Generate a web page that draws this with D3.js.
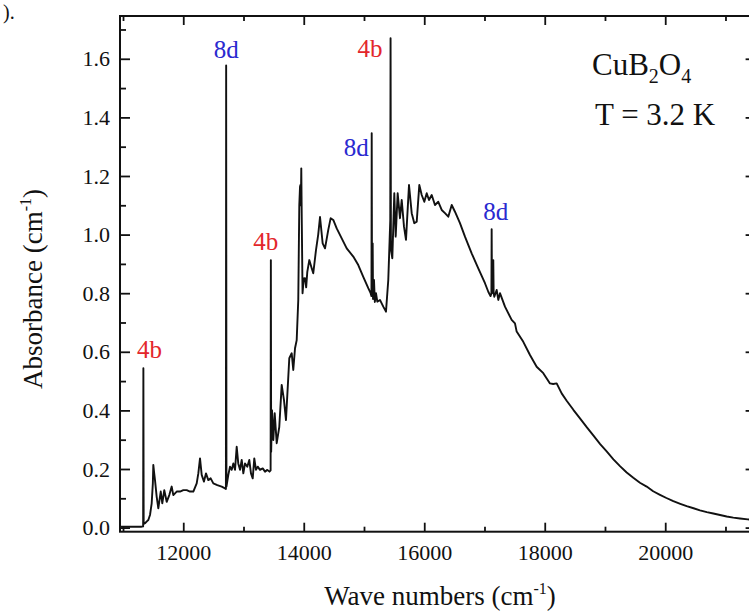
<!DOCTYPE html>
<html>
<head>
<meta charset="utf-8">
<script src="https://cdn.jsdelivr.net/npm/d3@7"></script>
<style>
  html, body { margin: 0; padding: 0; background: #fff; }
  svg { display: block; }
  text { font-family: "Liberation Serif", "Times New Roman", serif; fill: #111; }
</style>
</head>
<body>
<svg id="chart" width="749" height="612"></svg>
<script>
// Absorption spectrum of CuB2O4 at T = 3.2 K
const wavenumbers = [
  10955, 11000, 11100, 11200, 11300, 11334, 11338, 11343, 11365, 11400,
  11420, 11448, 11476, 11495, 11503, 11515, 11531, 11559, 11586, 11626,
  11652, 11685, 11725, 11768, 11808, 11835, 11891, 11946, 12001, 12057,
  12112, 12167, 12223, 12250, 12278, 12306, 12344, 12377, 12416, 12455,
  12499, 12565, 12638, 12693, 12708, 12712, 12717, 12748, 12776, 12804,
  12831, 12859, 12887, 12913, 12942, 12970, 12997, 13025, 13063, 13096,
  13124, 13153, 13179, 13207, 13236, 13274, 13319, 13357, 13395, 13431,
  13450, 13454, 13459, 13473, 13495, 13518, 13551, 13594, 13634, 13672,
  13705, 13760, 13800, 13826, 13855, 13883, 13909, 13926, 13938, 13945,
  13952, 13959, 13968, 13980, 14000, 14021, 14040, 14059, 14092, 14132,
  14158, 14203, 14240, 14270, 14314, 14353, 14407, 14447, 14490, 14547,
  14630, 14713, 14822, 14905, 14988, 15071, 15110, 15124, 15128, 15133,
  15144, 15150, 15166, 15180, 15199, 15221, 15265, 15320, 15365, 15403,
  15425, 15436, 15441, 15447, 15470, 15503, 15526, 15559, 15597, 15626,
  15664, 15697, 15747, 15792, 15835, 15875, 15918, 15958, 16001, 16041,
  16079, 16124, 16178, 16233, 16290, 16344, 16399, 16456, 16510, 16593,
  16676, 16787, 16897, 17008, 17063, 17100, 17115, 17119, 17124, 17140,
  17146, 17152, 17163, 17202, 17229, 17257, 17340, 17451, 17506, 17534,
  17644, 17755, 17866, 17976, 18087, 18140, 18198, 18281, 18364, 18475,
  18585, 18700, 18806, 18920, 19028, 19140, 19249, 19360, 19470, 19580,
  19692, 19800, 19913, 20020, 20134, 20250, 20356, 20470, 20577, 20690,
  20798, 20910, 21020, 21130, 21241, 21370, 21500
];
const absorbance = [
  0.003, 0.003, 0.003, 0.003, 0.003, 0.004, 0.544, 0.012, 0.015, 0.022,
  0.026, 0.043, 0.083, 0.150, 0.214, 0.190, 0.162, 0.105, 0.066, 0.123,
  0.083, 0.128, 0.088, 0.111, 0.140, 0.111, 0.123, 0.123, 0.128, 0.128,
  0.123, 0.123, 0.151, 0.185, 0.236, 0.180, 0.157, 0.185, 0.162, 0.168,
  0.151, 0.145, 0.140, 0.134, 0.132, 1.577, 0.140, 0.180, 0.208, 0.197,
  0.219, 0.197, 0.276, 0.219, 0.197, 0.231, 0.185, 0.219, 0.208, 0.231,
  0.185, 0.168, 0.236, 0.197, 0.208, 0.197, 0.202, 0.191, 0.197, 0.191,
  0.195, 0.913, 0.259, 0.401, 0.299, 0.390, 0.288, 0.344, 0.487, 0.435,
  0.367, 0.578, 0.595, 0.538, 0.612, 0.640, 0.777, 1.100, 1.163, 1.169,
  1.100, 1.226, 1.033, 0.800, 0.850, 0.851, 0.820, 0.873, 0.913, 0.885,
  0.868, 0.947, 1.000, 1.060, 0.970, 0.953, 1.016, 1.056, 1.050, 1.021,
  0.987, 0.953, 0.925, 0.896, 0.856, 0.817, 0.800, 0.790, 1.346, 0.800,
  0.970, 0.780, 0.845, 0.770, 0.800, 0.771, 0.777, 0.754, 0.737, 0.845,
  0.980, 1.050, 1.670, 0.950, 0.919, 1.141, 0.993, 1.141, 1.056, 1.118,
  1.027, 0.982, 1.169, 1.073, 1.039, 1.044, 1.169, 1.135, 1.112, 1.141,
  1.118, 1.135, 1.101, 1.112, 1.084, 1.073, 1.061, 1.101, 1.078, 1.039,
  0.993, 0.936, 0.885, 0.834, 0.805, 0.790, 0.800, 1.018, 0.820, 0.800,
  0.913, 0.800, 0.788, 0.811, 0.777, 0.800, 0.754, 0.709, 0.697, 0.669,
  0.634, 0.589, 0.549, 0.527, 0.492, 0.490, 0.492, 0.458, 0.433, 0.402,
  0.373, 0.342, 0.315, 0.285, 0.260, 0.233, 0.210, 0.188, 0.170, 0.153,
  0.140, 0.124, 0.112, 0.101, 0.090, 0.081, 0.073, 0.066, 0.059, 0.053,
  0.048, 0.043, 0.038, 0.034, 0.031, 0.028, 0.025
];

// Assigned sharp lines
const peakNames   = ["4b", "8d", "4b", "8d", "4b", "8d"];
const peakWave    = [11338, 12712, 13454, 15128, 15441, 17119];
const peakAbs     = [0.544, 1.577, 0.913, 1.346, 1.670, 1.018];
const peakColors  = { "4b": "#e3262b", "8d": "#2a2ad0" };

// Tick values
const xMajorTicks = [12000, 14000, 16000, 18000, 20000];
const xMinorTicks = [11000, 13000, 15000, 17000, 19000, 21000];
const yMajorTicks = [0.0, 0.2, 0.4, 0.6, 0.8, 1.0, 1.2, 1.4, 1.6];
const yMinorTicks = [0.1, 0.3, 0.5, 0.7, 0.9, 1.1, 1.3, 1.5, 1.7];

const svg = d3.select("#chart");
const box = { left: 120, right: 755.6, top: 16, bottom: 531.7 };

const x = d3.scaleLinear().domain([10950, 21500]).range([box.left, box.right]);
const y = d3.scaleLinear().domain([-0.014, 1.746]).range([box.bottom, box.top]);

const fmtY = d3.format(".1f");
const serif = "'Liberation Serif', 'Times New Roman', serif";

// Axes with inward ticks on all four sides
function styleAxis(g) {
  g.attr("font-family", serif);
  g.select(".domain").remove();
  g.selectAll(".tick line").attr("stroke", "#111").attr("stroke-width", 1.8);
  g.selectAll(".tick text").style("font-size", "22px").attr("fill", "#111");
}

svg.append("g").attr("transform", `translate(0,${box.bottom})`)
  .call(d3.axisBottom(x).tickValues(xMajorTicks).tickSize(-9).tickPadding(13).tickFormat(d3.format("d")))
  .call(styleAxis);
svg.append("g").attr("transform", `translate(0,${box.bottom})`)
  .call(d3.axisBottom(x).tickValues(xMinorTicks).tickSize(-5).tickFormat(""))
  .call(styleAxis);
svg.append("g").attr("transform", `translate(0,${box.top})`)
  .call(d3.axisTop(x).tickValues(xMajorTicks).tickSize(-9).tickFormat(""))
  .call(styleAxis);
svg.append("g").attr("transform", `translate(0,${box.top})`)
  .call(d3.axisTop(x).tickValues(xMinorTicks).tickSize(-5).tickFormat(""))
  .call(styleAxis);

svg.append("g").attr("transform", `translate(${box.left},0)`)
  .call(d3.axisLeft(y).tickValues(yMajorTicks).tickSize(-10).tickPadding(10).tickFormat(fmtY))
  .call(styleAxis);
svg.append("g").attr("transform", `translate(${box.left},0)`)
  .call(d3.axisLeft(y).tickValues(yMinorTicks).tickSize(-6).tickFormat(""))
  .call(styleAxis);
svg.append("g").attr("transform", `translate(${box.right},0)`)
  .call(d3.axisRight(y).tickValues(yMajorTicks).tickSize(-10).tickFormat(""))
  .call(styleAxis);
svg.append("g").attr("transform", `translate(${box.right},0)`)
  .call(d3.axisRight(y).tickValues(yMinorTicks).tickSize(-6).tickFormat(""))
  .call(styleAxis);

// Frame
svg.append("rect")
  .attr("x", box.left).attr("y", box.top)
  .attr("width", box.right - box.left).attr("height", box.bottom - box.top)
  .attr("fill", "none").attr("stroke", "#111").attr("stroke-width", 2);

// Spectrum
const spectrum = wavenumbers.map((w, i) => [w, absorbance[i]]);
svg.append("path")
  .datum(spectrum)
  .attr("fill", "none")
  .attr("stroke", "#111")
  .attr("stroke-width", 1.9)
  .attr("stroke-linejoin", "round")
  .attr("d", d3.line().x(d => x(d[0])).y(d => y(d[1])));

// Peak labels: placement relative to each line's tip
const labelPlacement = [
  { anchor: "middle", dx: 6,  dy: -10 },
  { anchor: "middle", dx: 0,  dy: -8 },
  { anchor: "middle", dx: -5, dy: -10 },
  { anchor: "end",    dx: -3, dy: 23 },
  { anchor: "end",    dx: -8, dy: 19 },
  { anchor: "middle", dx: 4,  dy: -9 }
];
svg.append("g").selectAll("text")
  .data(peakNames.map((n, i) => ({ n, w: peakWave[i], a: peakAbs[i], p: labelPlacement[i] })))
  .join("text")
  .attr("x", d => x(d.w) + d.p.dx)
  .attr("y", d => y(d.a) + d.p.dy)
  .attr("text-anchor", d => d.p.anchor)
  .style("font-size", "25px")
  .style("fill", d => peakColors[d.n])
  .text(d => d.n);

// Sample and temperature
const formula = svg.append("text").attr("x", 592).attr("y", 75).style("font-size", "31px");
formula.append("tspan").text("CuB");
formula.append("tspan").attr("dy", 8).style("font-size", "20px").text("2");
formula.append("tspan").attr("dy", -8).text("O");
formula.append("tspan").attr("dy", 8).style("font-size", "20px").text("4");
svg.append("text").attr("x", 595).attr("y", 125).style("font-size", "31px").text("T = 3.2 K");

// Axis titles
const xt = svg.append("text").attr("x", 440).attr("y", 605)
  .attr("text-anchor", "middle").style("font-size", "27px");
xt.append("tspan").text("Wave numbers (cm");
xt.append("tspan").attr("dy", -11).style("font-size", "16px").text("-1");
xt.append("tspan").attr("dy", 11).text(")");

const yt = svg.append("text")
  .attr("transform", "translate(42,289) rotate(-90)")
  .attr("text-anchor", "middle").style("font-size", "27px");
yt.append("tspan").text("Absorbance (cm");
yt.append("tspan").attr("dy", -11).style("font-size", "16px").text("-1");
yt.append("tspan").attr("dy", 11).text(")");

// Panel tag
svg.append("text").attr("x", 3).attr("y", 19).style("font-size", "20px").text(").");
</script>
</body>
</html>
